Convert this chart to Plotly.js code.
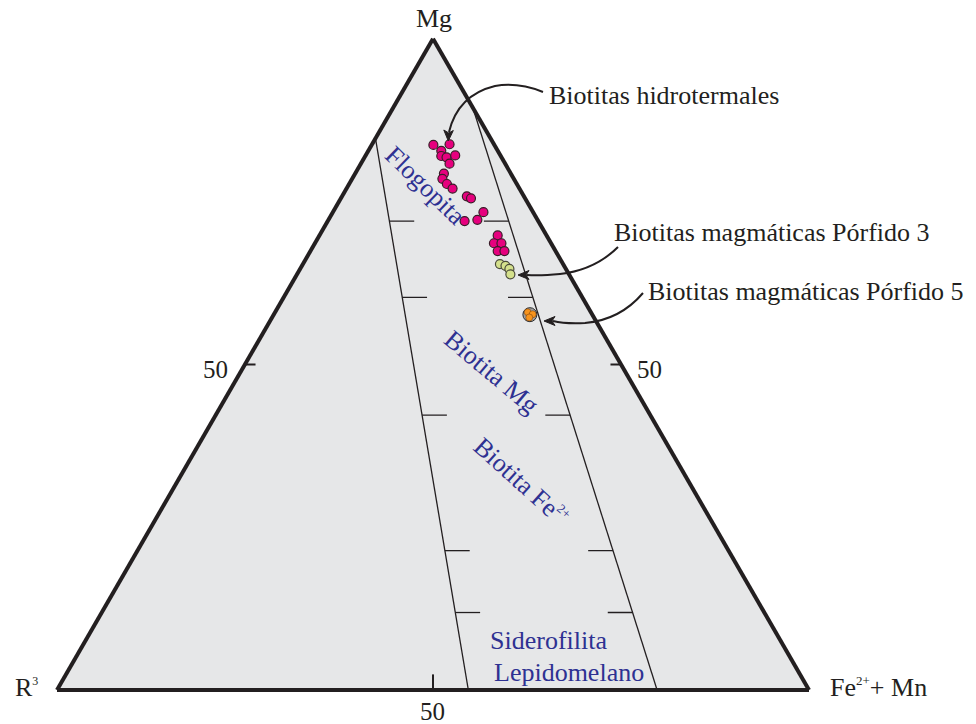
<!DOCTYPE html>
<html><head><meta charset="utf-8">
<script src="https://cdn.plot.ly/plotly-3.0.1.min.js"></script>
<style>html,body{margin:0;padding:0;background:#fff}#chart{width:976px;height:724px}</style>
</head><body><div id="chart"></div>
<script>
// ---- Data: percentages of Mg (a), R3 (b), Fe2+ + Mn (c) ----
const hidroMg = [83.7,83.8,82.8,82.0,81.8,82.0,80.9,79.3,78.5,77.7,77.0,75.8,75.5,73.3,72.2,72.0,69.8,68.6,68.6,67.4,67.4];
const hidroR3 = [8.1,5.9,7.5,7.9,7.3,6.0,7.4,8.9,9.5,9.3,8.9,7.6,7.2,6.6,8.0,9.8,6.5,7.6,6.6,7.7,6.8];
const hidroFe = [8.2,10.3,9.7,10.1,10.9,11.9,11.8,11.8,12.0,13.0,14.1,16.6,17.3,20.0,19.8,18.2,23.7,23.8,24.8,24.9,25.8];
const p3Mg = [65.4,65.2,64.6,63.9];
const p3R3 = [8.4,7.8,7.5,7.8];
const p3Fe = [26.2,27.1,27.8,28.4];
const p5Mg = [58.0,57.7,57.2];
const p5R3 = [8.4,7.9,8.6];
const p5Fe = [33.6,34.4,34.2];
// field boundary lines (start, end)
const leftLineMg = [84.7,0], leftLineR3 = [15.3,45.3], leftLineFe = [0,54.7];
const rightLineMg = [89.4,0], rightLineR3 = [0,20.2], rightLineFe = [10.6,79.8];
// Mg levels of the field divisions marked on the boundary lines
const boundaryMg = [72.0,60.3,42.2,21.4,11.9];
const edgeTickValue = 50;
const edgeTickLabel = '50';
const axisNames = ['Mg', 'R<sup><span style="font-size:12px">3</span></sup>', 'Fe<sup><span style="font-size:13px">2+</span></sup>+ Mn'];
const fieldNames = ['Flogopita','Biotita Mg','Biotita Fe<sup><span style="font-size:13px">2+</span></sup>','Siderofilita','Lepidomelano'];
const groupNames = ['Biotitas hidrotermales','Biotitas magmáticas Pórfido 3','Biotitas magmáticas Pórfido 5'];

// ---- helpers ----
const W = 976, H = 724;
const INK = '#231f20', BLUE = '#2e3192';
const FONT = 'Liberation Serif, Times New Roman, serif';
function pointOn(m, aM, aR, aF) {
  const t = (aM[0] - m) / (aM[0] - aM[1]);
  return [m, aR[0] + t * (aR[1] - aR[0]), aF[0] + t * (aF[1] - aF[0])];
}
const TL = 3.3; // tick length (percent units)
const tA = [], tB = [], tC = [];
boundaryMg.forEach(m => {
  const p = pointOn(m, leftLineMg, leftLineR3, leftLineFe);
  tA.push(p[0], p[0], null); tB.push(p[1], p[1] - TL, null); tC.push(p[2], p[2] + TL, null);
  const q = pointOn(m, rightLineMg, rightLineR3, rightLineFe);
  tA.push(q[0], q[0], null); tB.push(q[1], q[1] + TL, null); tC.push(q[2], q[2] - TL, null);
});
// edge ticks at 50
const e = edgeTickValue, r = 100 - e;
const eA = [e, e, null, e, e, null, 0, 2.4];
const eB = [r, r - 1.4, null, 0, 1.4, null, e, e - 1.2];
const eC = [0, 1.4, null, r, r - 1.4, null, r, r - 1.2];

const mean = arr => arr.reduce((s, v) => s + v, 0) / arr.length;

const traces = [
  {type:'scatterternary', mode:'lines', a:leftLineMg, b:leftLineR3, c:leftLineFe, line:{color:INK, width:1.3}, hoverinfo:'skip'},
  {type:'scatterternary', mode:'lines', a:rightLineMg, b:rightLineR3, c:rightLineFe, line:{color:INK, width:1.3}, hoverinfo:'skip'},
  {type:'scatterternary', mode:'lines', a:tA, b:tB, c:tC, line:{color:INK, width:1.3}, connectgaps:false, hoverinfo:'skip'},
  {type:'scatterternary', mode:'lines', a:eA, b:eB, c:eC, line:{color:INK, width:2}, connectgaps:false, hoverinfo:'skip'},
  {type:'scatterternary', mode:'markers', name:groupNames[0], a:hidroMg, b:hidroR3, c:hidroFe,
   marker:{size:9, color:'#e6007e', line:{color:'#3a1c28', width:1.2}}},
  {type:'scatterternary', mode:'markers', name:groupNames[1], a:p3Mg, b:p3R3, c:p3Fe,
   marker:{size:9, color:'#d4e08c', line:{color:'#4a4a3a', width:1.2}}},
  {type:'scatterternary', mode:'markers', name:groupNames[2] + ' (grupo)', a:[mean(p5Mg)], b:[mean(p5R3)], c:[mean(p5Fe)],
   marker:{size:14, color:'#9d9fa2', line:{color:'#2b2b2b', width:1}}, hoverinfo:'skip'},
  {type:'scatterternary', mode:'markers', name:groupNames[2], a:p5Mg, b:p5R3, c:p5Fe,
   marker:{size:7, color:'#f7941d', line:{color:'#6b3a10', width:0.5}}}
];

function ann(text, px, py, o) {
  return Object.assign({text:text, x:px / W, y:1 - py / H, xref:'paper', yref:'paper', showarrow:false,
    xanchor:'center', yanchor:'middle', font:{family:FONT, size:26, color:INK}}, o || {});
}
function P(x, y) { return (x / W).toFixed(5) + ',' + (1 - y / H).toFixed(5); }
function curve(pts) {
  return {type:'path', xref:'paper', yref:'paper', layer:'above', line:{color:INK, width:2},
    path:'M' + P(pts[0], pts[1]) + ' Q' + P(pts[2], pts[3]) + ' ' + P(pts[4], pts[5]) +
         ' Q' + P(pts[6], pts[7]) + ' ' + P(pts[8], pts[9])};
}
function arrowHead(pts) {
  return {type:'path', xref:'paper', yref:'paper', layer:'above', line:{color:INK, width:1}, fillcolor:INK,
    path:'M' + P(pts[0], pts[1]) + ' L' + P(pts[2], pts[3]) + ' L' + P(pts[4], pts[5]) + ' L' + P(pts[6], pts[7]) + ' Z'};
}

const annotations = [
  ann(axisNames[0], 434, 19),
  ann(axisNames[1], 40, 687, {xanchor:'right'}),
  ann(axisNames[2], 828, 687, {xanchor:'left'}),
  ann(edgeTickLabel, 215, 369, {font:{family:FONT, size:25, color:INK}}),
  ann(edgeTickLabel, 649, 369, {font:{family:FONT, size:25, color:INK}}),
  ann(edgeTickLabel, 432, 711, {font:{family:FONT, size:25, color:INK}}),
  ann(fieldNames[0], 425, 186, {textangle:44, font:{family:FONT, size:26, color:BLUE}}),
  ann(fieldNames[1], 492, 372, {textangle:40, font:{family:FONT, size:26, color:BLUE}}),
  ann(fieldNames[2], 521, 481, {textangle:42, font:{family:FONT, size:26, color:BLUE}}),
  ann(fieldNames[3], 548, 640, {font:{family:FONT, size:26, color:BLUE}}),
  ann(fieldNames[4], 569, 672, {font:{family:FONT, size:26, color:BLUE}}),
  ann(groupNames[0], 547, 95, {xanchor:'left'}),
  ann(groupNames[1], 612, 232, {xanchor:'left'}),
  ann(groupNames[2], 646, 291, {xanchor:'left'})
];

const shapes = [
  curve([543,92, 518,82, 495,86, 458,95, 449,132]),
  curve([618,247, 595,270, 560,274, 540,276, 527,275]),
  curve([643,293, 620,320, 585,323, 565,324, 553,321]),
  arrowHead([448.3,141, 443.8,130, 448.8,133, 453.3,130.5]),
  arrowHead([518,275, 529,270.5, 526,275, 529,279.5]),
  arrowHead([544,321, 555,316.5, 552,321, 555,325.5])
];

const axisStyle = {showgrid:false, showline:true, linewidth:4, linecolor:INK, showticklabels:false, ticks:'', title:{text:''}};

const layout = {
  width:W, height:H, margin:{l:0, r:0, t:0, b:0},
  paper_bgcolor:'#ffffff', showlegend:false, hovermode:false,
  ternary:{
    sum:100,
    domain:{x:[0.0584, 0.8289], y:[0.0465, 0.9469]},
    bgcolor:'#e6e7e8',
    aaxis:axisStyle, baxis:axisStyle, caxis:axisStyle
  },
  annotations:annotations,
  shapes:shapes
};

Plotly.newPlot('chart', traces, layout, {staticPlot:true, displayModeBar:false});
</script>
</body></html>
